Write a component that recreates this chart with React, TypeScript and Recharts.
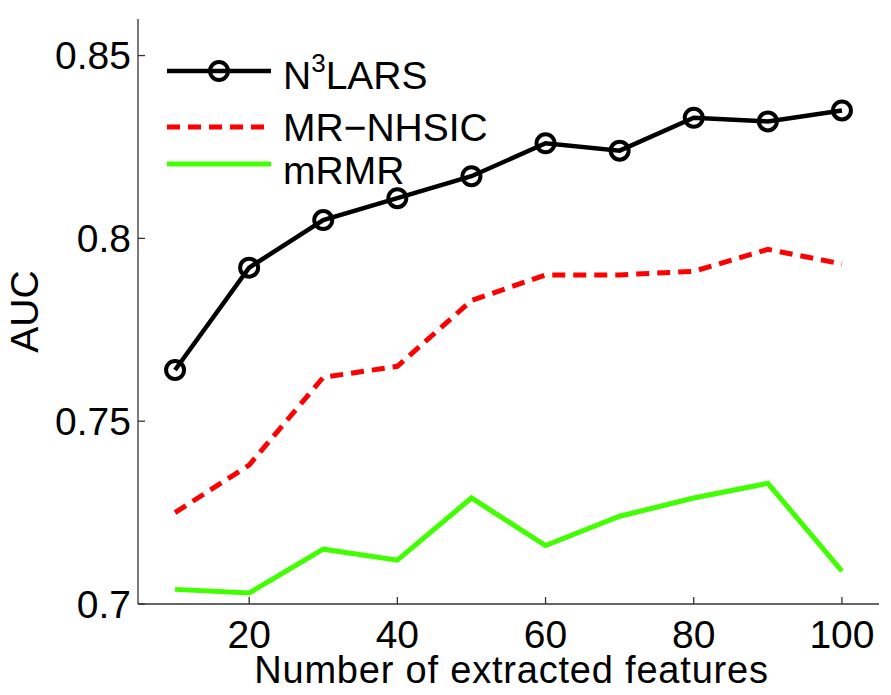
import React from 'react';
import { LineChart, Line, XAxis, YAxis, Legend } from 'recharts';

const features = [10, 20, 30, 40, 50, 60, 70, 80, 90, 100];
const n3lars = [0.764, 0.792, 0.805, 0.811, 0.817, 0.826, 0.824, 0.833, 0.832, 0.835];
const mrNhsic = [0.725, 0.738, 0.762, 0.765, 0.783, 0.790, 0.790, 0.791, 0.797, 0.793];
const mrmr = [0.704, 0.703, 0.715, 0.712, 0.729, 0.716, 0.724, 0.729, 0.733, 0.709];

const xTicks = [20, 40, 60, 80, 100];
const yTicks = [0.7, 0.75, 0.8, 0.85];

const data = features.map((f, i) => ({
  features: f,
  n3lars: n3lars[i],
  mrNhsic: mrNhsic[i],
  mrmr: mrmr[i],
}));

const FONT = '"Liberation Sans", Arial, Helvetica, sans-serif';
const AXIS = '#333';
const RED = '#ff0000';
const GREEN = '#40ff00';

const LegendBox = () => (
  <svg width={520} height={200} style={{ display: 'block' }}>
    <g fontFamily={FONT} fill="#000">
      <line x1={167} y1={71} x2={271} y2={71} stroke="#000" strokeWidth={4.5} />
      <circle cx={219} cy={71} r={9} fill="none" stroke="#000" strokeWidth={4} />
      <text x={283} y={89} fontSize={39}>
        N<tspan fontSize={26} dy={-17}>3</tspan><tspan dy={17}>LARS</tspan>
      </text>

      <line x1={167} y1={127} x2={271} y2={127} stroke={RED} strokeWidth={5} strokeDasharray="13 8" />
      <text x={283} y={141} fontSize={39}>MR−NHSIC</text>

      <line x1={167} y1={164} x2={271} y2={164} stroke={GREEN} strokeWidth={5} />
      <text x={283} y={184} fontSize={39}>mRMR</text>
    </g>
  </svg>
);

export default function App() {
  return (
    <div style={{ position: 'absolute', left: 0, top: 0, width: 891, height: 695, background: '#fff', fontFamily: FONT }}>
      <LineChart width={891} height={695} data={data} margin={{ top: 19, right: 12, bottom: 11, left: 0 }}>
        <XAxis
          dataKey="features"
          type="number"
          domain={[5, 105]}
          ticks={xTicks}
          height={80}
          stroke={AXIS}
          strokeWidth={1.3}
          tickSize={-7}
          tickMargin={23}
          tick={{ fill: '#000', fontSize: 39, fontFamily: FONT }}
          label={{
            value: 'Number of extracted features',
            position: 'insideBottom',
            offset: 1,
            dx: 3,
            style: { fontSize: 38, fill: '#000', fontFamily: FONT, letterSpacing: 0.8 },
          }}
        />
        <YAxis
          type="number"
          domain={[0.7, 0.86]}
          ticks={yTicks}
          width={138}
          stroke={AXIS}
          strokeWidth={1.3}
          tickSize={-7}
          tickMargin={14}
          allowDataOverflow
          tick={{ fill: '#000', fontSize: 39, fontFamily: FONT }}
          label={{
            value: 'AUC',
            angle: -90,
            position: 'insideLeft',
            offset: 24,
            style: { fontSize: 39, fill: '#000', fontFamily: FONT, textAnchor: 'middle' },
          }}
        />
        <Legend
          layout="vertical"
          align="center"
          verticalAlign="middle"
          wrapperStyle={{ left: 0, top: 0, width: 520, height: 200 }}
          content={() => <LegendBox />}
        />
        <Line
          type="linear"
          dataKey="mrmr"
          name="mRMR"
          stroke={GREEN}
          strokeWidth={5}
          dot={false}
          activeDot={false}
          isAnimationActive={false}
        />
        <Line
          type="linear"
          dataKey="mrNhsic"
          name="MR−NHSIC"
          stroke={RED}
          strokeWidth={5}
          strokeDasharray="13 8"
          dot={false}
          activeDot={false}
          isAnimationActive={false}
        />
        <Line
          type="linear"
          dataKey="n3lars"
          name="N3LARS"
          stroke="#000"
          strokeWidth={4.5}
          dot={{ r: 9, stroke: '#000', strokeWidth: 4, fill: 'none' }}
          activeDot={false}
          isAnimationActive={false}
        />
      </LineChart>
    </div>
  );
}
